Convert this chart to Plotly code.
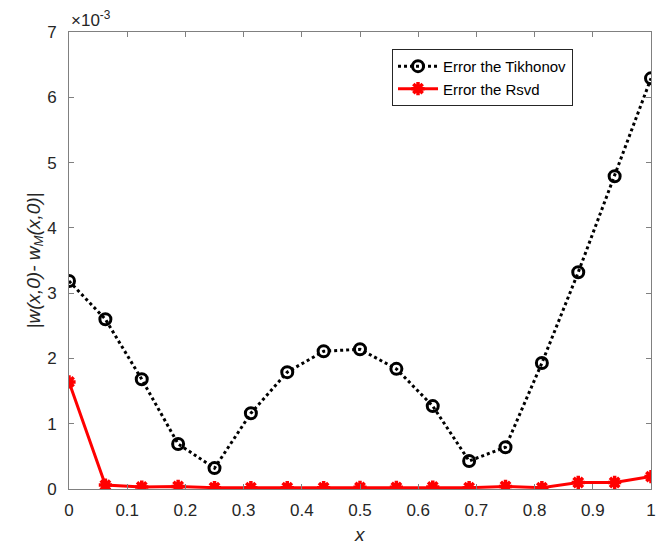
import plotly.graph_objects as go

x = [i / 16 for i in range(17)]
tikhonov = [3.185, 2.60, 1.68, 0.69, 0.32, 1.16, 1.79, 2.11, 2.14, 1.84, 1.27, 0.43, 0.64, 1.93, 3.32, 4.79, 6.29]
rsvd = [1.64, 0.06, 0.03, 0.04, 0.02, 0.02, 0.02, 0.02, 0.025, 0.025, 0.03, 0.02, 0.04, 0.02, 0.10, 0.10, 0.19]
xticks = [0, 0.1, 0.2, 0.3, 0.4, 0.5, 0.6, 0.7, 0.8, 0.9, 1]
xticklabels = ["0", "0.1", "0.2", "0.3", "0.4", "0.5", "0.6", "0.7", "0.8", "0.9", "1"]
yticks = [0, 1, 2, 3, 4, 5, 6, 7]

font = "Liberation Sans, Arial, sans-serif"
axcol = "#262626"

fig = go.Figure()
fig.add_trace(go.Scatter(
    x=x, y=tikhonov, mode="lines+markers", name="Error the Tikhonov",
    line=dict(color="black", width=3, dash="dot"),
    marker=dict(symbol="circle-open", size=11, color="black", line=dict(width=3, color="black")),
))
fig.add_trace(go.Scatter(
    x=x, y=rsvd, mode="lines+markers", name="Error the Rsvd",
    line=dict(color="red", width=3),
    marker=dict(symbol="asterisk-open", size=11, color="red", line=dict(width=3.5, color="red")),
))

axis_common = dict(
    showline=True, linecolor="#808080", linewidth=1, mirror="ticks",
    ticks="inside", ticklen=5, tickcolor="#808080", showgrid=False, zeroline=False,
    tickfont=dict(family=font, size=17, color=axcol), automargin=False,
)
fig.update_xaxes(range=[0, 1], tickvals=xticks, ticktext=xticklabels, ticklabelstandoff=6,
                 **axis_common)
fig.update_yaxes(range=[0, 7], tickvals=yticks, ticklabelstandoff=8,
                 **axis_common)

fig.add_annotation(x=0.5, y=0, xref="paper", yref="paper", xanchor="center", yanchor="top",
                   text="<i>x</i>", showarrow=False, yshift=-33,
                   font=dict(family=font, size=19, color=axcol))
fig.add_annotation(x=0, y=0.5, xref="paper", yref="paper", xanchor="right", yanchor="middle",
                   text="<i>|w(x,0)- w<sub>M</sub>(x,0)|</i>", showarrow=False, textangle=-90,
                   xshift=-21, font=dict(family=font, size=19, color=axcol))
fig.add_annotation(x=0, y=1, xref="paper", yref="paper", xanchor="left", yanchor="bottom",
                   text="×10<sup>-3</sup>", showarrow=False, yshift=0,
                   font=dict(family=font, size=17, color=axcol))

fig.update_layout(
    width=662, height=546,
    margin=dict(l=69, r=11, t=32, b=57),
    paper_bgcolor="white", plot_bgcolor="white",
    legend=dict(x=0.555, y=0.963, xanchor="left", yanchor="top",
                bordercolor="#262626", borderwidth=1, bgcolor="white",
                font=dict(family=font, size=15, color="black"),
                tracegroupgap=0, itemwidth=40),
    showlegend=True,
)

fig.write_html("out.html")
